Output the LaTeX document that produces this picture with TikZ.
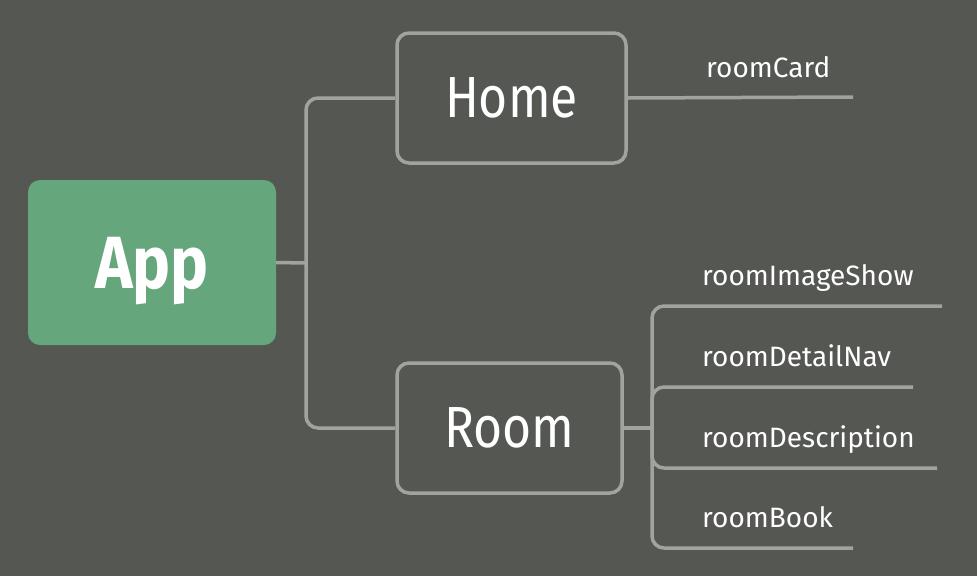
\documentclass[tikz,border=0pt]{standalone}
\usepackage{fontspec}
\setmainfont{Fira Sans}[FakeStretch=0.86]
\newfontfamily\leaffont{Fira Sans}
\usepackage{tikz}
\usetikzlibrary{positioning}
\definecolor{bgGray}{RGB}{85,87,83}
\definecolor{appGreen}{RGB}{102,166,124}
\definecolor{lineGray}{RGB}{160,164,158}

\begin{document}
\begin{tikzpicture}[x=1pt, y=-1pt,
	branch/.style={draw=lineGray, line width=3.5pt, rounded corners=12pt},
	topic/.style={draw=lineGray, line width=3.5pt, rounded corners=12pt, minimum height=130pt, text depth=0pt, text=white, font=\fontsize{58}{60}\selectfont},
	leaf/.style={anchor=base west, inner sep=0, text=white, font=\leaffont\fontsize{28}{30}\selectfont}]
	\fill[bgGray] (0,0) rectangle (977,576);
	\node[fill=appGreen, rounded corners=12pt, minimum width=248pt, minimum height=165pt, text depth=0pt, text=white, font=\fontsize{74}{76}\selectfont\bfseries] (app) at (152,262.5) {App};
	\node[topic, minimum width=229pt] (home) at (511.5,98) {Home};
	\node[topic, minimum width=225pt] (room) at (509.5,428) {Room};
	\coordinate (jA) at (306,263);
	\coordinate (jR) at (652,428);
	\draw[branch] (app.east) -- (jA);
	\draw[branch] (home.west) -| (jA);
	\draw[branch] (room.west) -| (jA);
	\draw[branch] (room.east) -- (jR);
	% leaves
	\node[leaf] (lCard) at (706,77) {roomCard};
	\coordinate (eCard) at (853,97);
	\draw[branch] (home.east) -- (eCard);
	\foreach \n/\t/\y/\e in {Img/roomImageShow/306/942, Nav/roomDetailNav/387/913, Desc/roomDescription/468/937, Book/roomBook/548/853} {
		\node[leaf] (l\n) at (702,\y-21) {\t};
		\coordinate (e\n) at (\e,\y);
		\draw[branch] (jR) |- (e\n);
	};
\end{tikzpicture}
\end{document}
